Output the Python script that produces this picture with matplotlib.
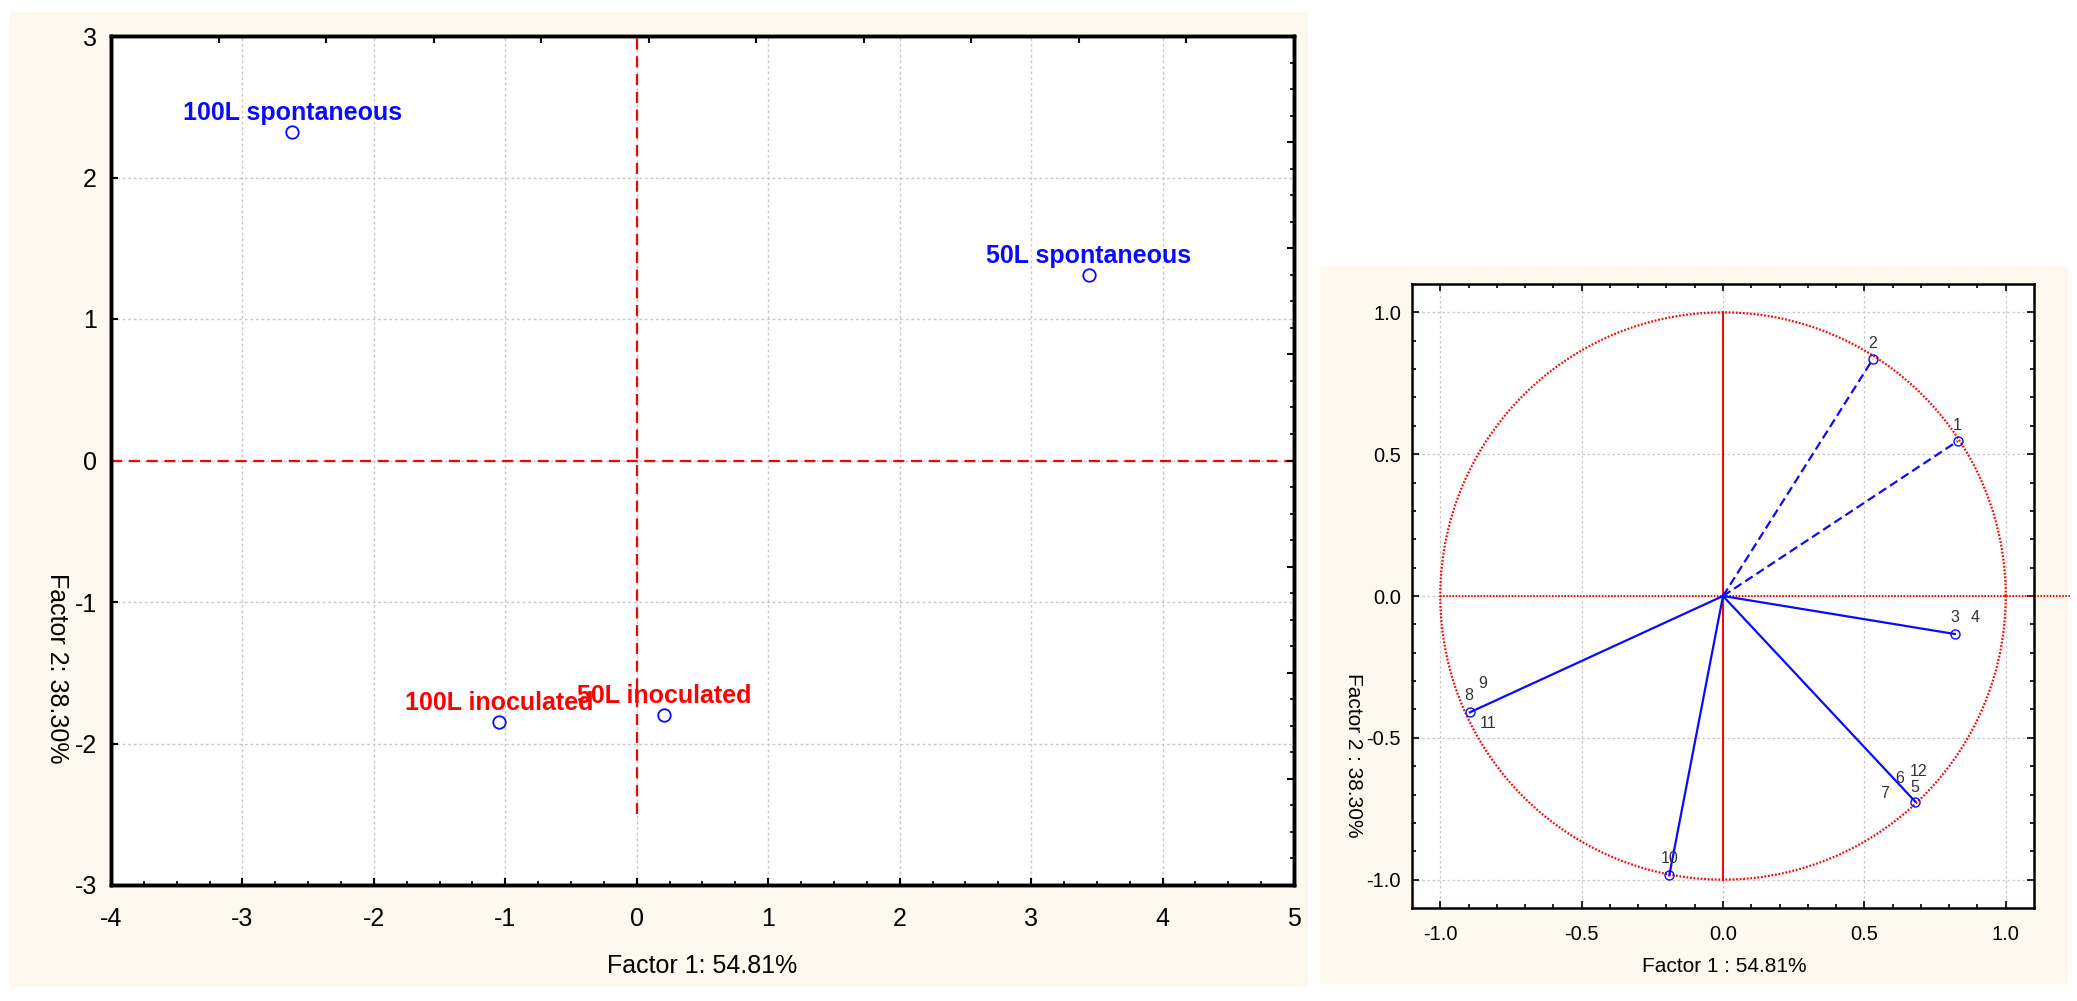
import matplotlib
matplotlib.use("Agg")
import matplotlib.pyplot as plt
import numpy as np
from matplotlib.patches import Rectangle

plt.rcParams["font.family"] = ["Liberation Sans", "DejaVu Sans"]

# ---------------------------------------------------------------------------
# Data
# ---------------------------------------------------------------------------
# Cases (factor scores)
case_labels = ["100L spontaneous", "50L spontaneous", "100L inoculated", "50L inoculated"]
case_f1 = [-2.62, 3.44, -1.05, 0.21]
case_f2 = [2.32, 1.31, -1.85, -1.80]
case_group = ["spontaneous", "spontaneous", "inoculated", "inoculated"]

score_xticks = [-4, -3, -2, -1, 0, 1, 2, 3, 4, 5]
score_xticklabels = ["-4", "-3", "-2", "-1", "0", "1", "2", "3", "4", "5"]
score_yticks = [-3, -2, -1, 0, 1, 2, 3]
score_yticklabels = ["-3", "-2", "-1", "0", "1", "2", "3"]

# Variables (factor loadings) - one vector per point, several variables share a point
var_f1 = [0.83, 0.53, 0.82, 0.68, -0.895, -0.19]
var_f2 = [0.546, 0.835, -0.134, -0.725, -0.41, -0.985]
var_dashed = [True, True, False, False, False, False]

# variable number labels and where they sit
num_labels = ["1", "2", "3", "4", "12", "6", "5", "7", "8", "9", "11", "10"]
num_x = [0.83, 0.53, 0.82, 0.89, 0.69, 0.625, 0.68, 0.57, -0.90, -0.85, -0.83, -0.19]
num_y = [0.60, 0.89, -0.075, -0.075, -0.62, -0.645, -0.675, -0.695, -0.35, -0.31, -0.45, -0.925]

load_ticks = [-1.0, -0.5, 0.0, 0.5, 1.0]
load_ticklabels = ["-1.0", "-0.5", "0.0", "0.5", "1.0"]

x_label_left = "Factor 1: 54.81%"
y_label_left = "Factor 2: 38.30%"
x_label_right = "Factor 1 : 54.81%"
y_label_right = "Factor 2 : 38.30%"

# ---------------------------------------------------------------------------
# Figure
# ---------------------------------------------------------------------------
W, H = 2077, 1001
fig = plt.figure(figsize=(W / 100, H / 100), dpi=100, facecolor="white")
CREAM = "#fdf9ee"
BLUE = "#0a0aff"
RED = "#ff0000"
GRID = "#c8c8c8"


def fx(px):
    return px / W


def fy(py):
    return 1 - py / H


# cream backgrounds behind both panels
fig.patches.append(Rectangle((fx(10), fy(986)), fx(1297), 974 / H,
                             transform=fig.transFigure, color=CREAM, zorder=-10))
fig.patches.append(Rectangle((fx(1320), fy(983)), fx(747), 716 / H,
                             transform=fig.transFigure, color=CREAM, zorder=-10))

# ── Left: scores ──
ax = fig.add_axes([fx(111), fy(885), fx(1183), 849 / H])
ax.set_xlim(-4, 5)
ax.set_ylim(-3, 3)
ax.set_xticks(score_xticks, score_xticklabels)
ax.set_yticks(score_yticks, score_yticklabels)
ax.set_xticks(np.arange(-4, 5.01, 0.25), minor=True)
ax.grid(True, color=GRID, linestyle=(0, (2, 2)), linewidth=1.0)
ax.tick_params(axis="x", which="major", direction="in", length=5, width=1.5,
               labelsize=18, pad=16)
ax.tick_params(axis="x", which="minor", direction="in", length=3, width=1.2)
ax.tick_params(axis="y", which="major", direction="in", length=5, width=1.5,
               labelsize=18, pad=10)
for s in ax.spines.values():
    s.set_linewidth(2.4)

ax.axhline(0, color=RED, linestyle=(0, (5, 3)), linewidth=1.6, zorder=2)
ax.plot([0, 0], [-2.5, 3], color=RED, linestyle=(0, (5, 3)), linewidth=1.6, zorder=2)

for lab, x, y, grp in zip(case_labels, case_f1, case_f2, case_group):
    col = BLUE if grp == "spontaneous" else RED
    ax.plot(x, y, "o", mfc="none", mec=BLUE, ms=9, mew=1.3, zorder=4)
    ax.annotate(lab, (x, y), xytext=(0, 9), textcoords="offset points",
                ha="center", va="baseline", color=col, fontsize=18,
                fontweight="bold", zorder=5)

# extra tick rows on top and right (independent divisions)
axt = ax.twiny()
axt.set_xlim(0, 11)
axt.set_xticks(range(12))
axt.tick_params(axis="x", direction="in", length=5, width=1.5, labeltop=False)
axr = ax.twinx()
axr.set_ylim(0, 8)
axr.set_yticks(range(9))
axr.set_yticks(np.arange(0, 8.01, 0.25), minor=True)
axr.tick_params(axis="y", which="major", direction="in", length=5, width=1.5,
                labelright=False)
axr.tick_params(axis="y", which="minor", direction="in", length=3, width=1.2)
for a in (axt, axr):
    for s in a.spines.values():
        s.set_linewidth(2.4)

fig.text(fx(702), fy(966), x_label_left, ha="center", va="center", fontsize=18)
fig.text(fx(57), fy(668), y_label_left, ha="center", va="center", fontsize=18,
         rotation=-90)

# ── Right: loadings ──
bx = fig.add_axes([fx(1412), fy(908), fx(622), 624 / H])
bx.set_xlim(-1.1, 1.1)
bx.set_ylim(-1.1, 1.1)
bx.set_xticks(load_ticks, load_ticklabels)
bx.set_yticks(load_ticks, load_ticklabels)
bx.set_xticks(np.arange(-1.0, 1.01, 0.1), minor=True)
bx.set_yticks(np.arange(-1.0, 1.01, 0.1), minor=True)
bx.grid(True, color=GRID, linestyle=(0, (2, 2)), linewidth=0.9)
bx.tick_params(which="both", direction="in", top=True, right=True, width=1.2)
bx.tick_params(which="major", length=5, labelsize=14.5)
bx.tick_params(which="minor", length=3)
bx.tick_params(axis="x", which="major", pad=12)
bx.tick_params(axis="y", which="major", pad=8)
for s in bx.spines.values():
    s.set_linewidth(1.8)

t = np.linspace(0, 2 * np.pi, 400)
bx.plot(np.cos(t), np.sin(t), color=RED, linestyle=(0, (0.8, 0.8)), linewidth=1.6, zorder=2)
bx.plot([-1, 1.226], [0, 0], color=RED, linestyle=(0, (0.8, 0.8)), linewidth=1.4,
        zorder=2, clip_on=False)
bx.plot([0, 0], [-1, 1], color=RED, linewidth=1.4, zorder=2)

for x, y, dashed in zip(var_f1, var_f2, var_dashed):
    bx.plot([0, x], [0, y], color=BLUE, linewidth=1.6,
            linestyle=(0, (4, 2)) if dashed else "-", zorder=3)
    bx.plot(x, y, "o", mfc="none", mec=BLUE, ms=6.5, mew=1.0, zorder=4)

for lab, x, y in zip(num_labels, num_x, num_y):
    bx.text(x, y, lab, ha="center", va="center", fontsize=11.5, color="#333333", zorder=5)

fig.text(fx(1724), fy(967), x_label_right, ha="center", va="center", fontsize=15)
fig.text(fx(1353), fy(755), y_label_right, ha="center", va="center", fontsize=15,
         rotation=-90)

fig.savefig("out.png", dpi=100, facecolor="white")
